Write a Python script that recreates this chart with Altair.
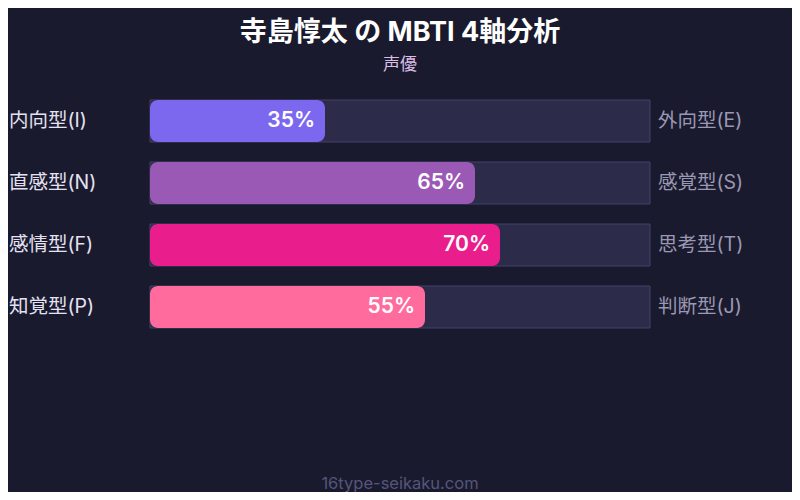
import altair as alt
import pandas as pd

TITLE = "寺島惇太 の MBTI 4軸分析"
SUBTITLE = "声優"
FOOTER = "16type-seikaku.com"

left_labels = ["内向型(I)", "直感型(N)", "感情型(F)", "知覚型(P)"]
right_labels = ["外向型(E)", "感覚型(S)", "思考型(T)", "判断型(J)"]
scores = [35, 65, 70, 55]
bar_colours = ["#7b68ee", "#9b59b6", "#e91e8c", "#ff6b9d"]

FONT = "Inter, Noto Sans CJK JP, sans-serif"
BG = "#1a1a2e"

df = pd.DataFrame(
    {
        "axis": left_labels,
        "right": right_labels,
        "score": scores,
        "start": [0] * len(scores),
        "full": [100] * len(scores),
    }
)
df["label"] = df["score"].astype(str) + "%"

# 5 px per percent, track from 0 to 100
x_scale = alt.Scale(domain=[-28.4, 128.4], range=[0, 784])
y_scale = alt.Scale(
    domain=left_labels, range=[92, 320], paddingInner=20 / 62, paddingOuter=0
)
y_enc = alt.Y("axis:N", scale=y_scale, axis=None, sort=left_labels)

base = alt.Chart(df)

track = base.mark_bar(color="#2d2b4a", stroke="#42406a", strokeWidth=1).encode(
    x=alt.X("start:Q", scale=x_scale, axis=None),
    x2="full:Q",
    y=y_enc,
)

bars = base.mark_bar(cornerRadius=8).encode(
    x=alt.X("start:Q", scale=x_scale, axis=None),
    x2="score:Q",
    y=y_enc,
    color=alt.Color(
        "axis:N",
        scale=alt.Scale(domain=left_labels, range=bar_colours),
        legend=None,
    ),
)

values = base.mark_text(
    align="right", baseline="middle", dx=-10, font=FONT, fontSize=21,
    fontWeight=600, color="white",
).encode(
    x=alt.X("score:Q", scale=x_scale, axis=None),
    y=y_enc,
    text="label:N",
)

left = base.mark_text(
    align="left", baseline="middle", font=FONT, fontSize=19.5, color="#e4e2f2"
).encode(x=alt.value(1), y=y_enc, text="axis:N")

right = base.mark_text(
    align="left", baseline="middle", font=FONT, fontSize=19.5, color="#9a98b2"
).encode(x=alt.value(650), y=y_enc, text="right:N")

title = alt.Chart(pd.DataFrame({"t": [TITLE]})).mark_text(
    align="center", baseline="middle", font=FONT, fontSize=27,
    fontWeight="bold", color="white",
).encode(x=alt.value(392), y=alt.value(25), text="t:N")

subtitle = alt.Chart(pd.DataFrame({"t": [SUBTITLE]})).mark_text(
    align="center", baseline="middle", font=FONT, fontSize=17, color="#dcbde6"
).encode(x=alt.value(392), y=alt.value(57), text="t:N")

footer = alt.Chart(pd.DataFrame({"t": [FOOTER]})).mark_text(
    align="center", baseline="middle", font=FONT, fontSize=16.5, color="#55557a"
).encode(x=alt.value(392), y=alt.value(476), text="t:N")

chart = (
    alt.layer(track, bars, values, left, right, title, subtitle, footer)
    .properties(
        width=784,
        height=484,
        padding=0,
        autosize=alt.AutoSizeParams(type="none"),
        background=BG,
    )
    .configure_view(stroke=None)
)

chart.save("out.html", embed_options={"renderer": "svg", "actions": False})
